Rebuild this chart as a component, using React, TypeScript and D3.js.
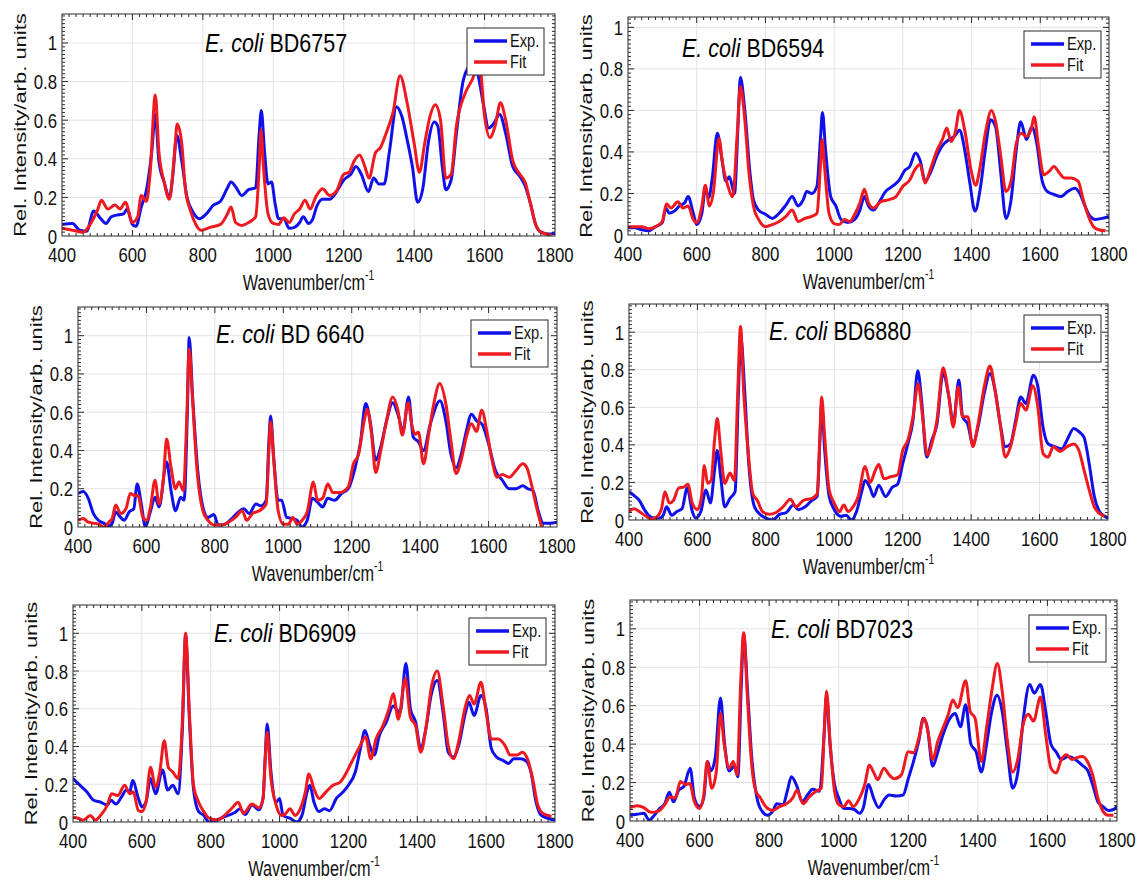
import React, { useEffect, useRef } from 'react';
import * as d3 from 'd3';

type Pt = [number, number];

const xTicks = [400, 600, 800, 1000, 1200, 1400, 1600, 1800];
const yTicks = [0, 0.2, 0.4, 0.6, 0.8, 1];
const strains = ['BD6757', 'BD6594', 'BD 6640', 'BD6880', 'BD6909', 'BD7023'];

// spectra: [wavenumber, rel. intensity]
const bd6757Exp: Pt[] = [[400,.06],[430,.065],[450,.03],[470,.025],[490,.13],[510,.09],[525,.065],[540,.10],[560,.11],[575,.115],[585,.14],[600,.06],[610,.05],[625,.15],[640,.24],[655,.44],[665,.63],[675,.39],[690,.28],[705,.20],[715,.32],[726,.52],[740,.39],[755,.20],[770,.13],[790,.09],[810,.115],[830,.16],[850,.18],[870,.25],[880,.28],[895,.25],[910,.21],[930,.24],[950,.25],[960,.53],[966,.65],[975,.44],[985,.27],[995,.28],[1005,.17],[1015,.09],[1030,.09],[1045,.04],[1060,.045],[1075,.07],[1085,.10],[1100,.065],[1110,.08],[1125,.16],[1140,.19],[1160,.19],[1180,.23],[1200,.29],[1220,.32],[1235,.36],[1250,.32],[1270,.23],[1285,.30],[1300,.27],[1315,.27],[1330,.44],[1350,.67],[1365,.62],[1380,.50],[1395,.36],[1410,.175],[1425,.25],[1440,.48],[1457,.59],[1467,.57],[1480,.36],[1490,.24],[1505,.29],[1520,.53],[1540,.81],[1560,.88],[1580,.84],[1595,.70],[1612,.56],[1625,.58],[1643,.63],[1660,.53],[1680,.36],[1700,.31],[1715,.26],[1730,.17],[1745,.06],[1760,.02],[1780,.01],[1800,.015]];
const bd6757Fit: Pt[] = [[400,.04],[430,.03],[460,.02],[480,.06],[500,.13],[512,.185],[530,.14],[550,.16],[565,.14],[580,.175],[600,.07],[615,.10],[625,.21],[640,.18],[650,.32],[665,.73],[675,.44],[690,.28],[705,.19],[720,.44],[727,.58],[740,.48],[750,.25],[765,.13],[780,.06],[795,.03],[820,.045],[850,.06],[870,.115],[880,.15],[893,.07],[910,.055],[930,.07],[950,.10],[960,.36],[965,.55],[972,.36],[985,.115],[1000,.065],[1015,.06],[1030,.095],[1045,.07],[1060,.115],[1075,.14],[1090,.185],[1105,.14],[1120,.20],[1140,.245],[1160,.21],[1180,.235],[1200,.32],[1215,.33],[1230,.39],[1245,.42],[1260,.36],[1272,.30],[1290,.43],[1305,.46],[1320,.53],[1340,.64],[1360,.83],[1380,.69],[1400,.48],[1415,.33],[1430,.48],[1445,.62],[1460,.68],[1475,.60],[1490,.30],[1505,.32],[1520,.57],[1545,.74],[1565,.81],[1585,.90],[1600,.62],[1615,.51],[1630,.57],[1645,.69],[1660,.60],[1680,.39],[1700,.32],[1715,.28],[1730,.17],[1745,.06],[1760,.02],[1790,.005]];

const bd6594Exp: Pt[] = [[400,.035],[420,.035],[440,.025],[460,.02],[480,.04],[500,.06],[510,.13],[520,.105],[535,.115],[550,.14],[565,.155],[575,.185],[590,.105],[600,.05],[615,.105],[625,.22],[635,.18],[645,.27],[660,.49],[672,.38],[685,.26],[695,.28],[710,.20],[720,.52],[727,.76],[740,.60],[755,.30],[765,.17],[780,.12],[800,.10],[820,.08],[840,.105],[860,.145],[878,.185],[895,.14],[910,.17],[920,.21],[935,.20],[950,.235],[960,.46],[966,.59],[975,.41],[990,.185],[1005,.14],[1020,.075],[1040,.06],[1060,.075],[1075,.12],[1088,.185],[1100,.14],[1115,.12],[1130,.155],[1150,.21],[1170,.235],[1190,.265],[1205,.31],[1220,.33],[1237,.395],[1250,.36],[1265,.26],[1280,.30],[1300,.385],[1320,.44],[1335,.46],[1350,.475],[1365,.505],[1380,.41],[1395,.25],[1410,.115],[1425,.22],[1440,.41],[1455,.555],[1470,.52],[1485,.30],[1500,.08],[1515,.17],[1530,.41],[1543,.545],[1560,.46],[1575,.52],[1590,.44],[1605,.265],[1620,.21],[1640,.195],[1660,.185],[1680,.21],[1700,.225],[1715,.20],[1730,.14],[1745,.09],[1760,.075],[1780,.08],[1800,.09]];
const bd6594Fit: Pt[] = [[400,.04],[440,.04],[460,.03],[480,.04],[500,.065],[512,.15],[525,.13],[545,.16],[560,.13],[575,.14],[590,.075],[600,.06],[615,.14],[625,.24],[637,.14],[648,.20],[665,.465],[675,.345],[690,.24],[705,.185],[718,.49],[727,.715],[740,.555],[752,.30],[765,.14],[780,.075],[800,.04],[820,.05],[840,.065],[860,.09],[878,.12],[895,.065],[915,.08],[935,.09],[950,.105],[960,.33],[965,.46],[972,.33],[985,.105],[1000,.055],[1015,.05],[1030,.075],[1045,.065],[1060,.10],[1075,.155],[1088,.22],[1100,.155],[1115,.13],[1135,.16],[1160,.17],[1180,.185],[1200,.235],[1220,.265],[1235,.315],[1250,.34],[1265,.25],[1280,.315],[1300,.41],[1315,.46],[1328,.515],[1340,.45],[1352,.49],[1365,.60],[1380,.505],[1400,.30],[1412,.24],[1425,.33],[1440,.49],[1458,.60],[1470,.545],[1485,.38],[1500,.21],[1515,.26],[1530,.44],[1545,.49],[1560,.475],[1575,.52],[1582,.57],[1595,.425],[1610,.29],[1625,.305],[1640,.33],[1655,.30],[1670,.275],[1690,.275],[1710,.26],[1725,.17],[1740,.09],[1755,.04],[1770,.025],[1790,.02]];

const bd6640Exp: Pt[] = [[400,.175],[415,.185],[430,.15],[445,.07],[460,.035],[475,.02],[490,.005],[500,.02],[510,.08],[520,.06],[535,.035],[550,.08],[563,.095],[573,.225],[585,.12],[597,.0],[610,.07],[625,.155],[637,.105],[659,.34],[672,.19],[685,.085],[700,.155],[710,.14],[720,.63],[725,.99],[735,.68],[750,.295],[765,.105],[780,.05],[797,.065],[810,.01],[830,.015],[850,.045],[870,.08],[885,.095],[900,.07],[920,.12],[935,.11],[950,.14],[958,.45],[963,.58],[972,.365],[985,.14],[995,.14],[1010,.05],[1025,.045],[1040,.035],[1055,.0],[1070,.035],[1085,.15],[1100,.13],[1115,.105],[1130,.15],[1150,.14],[1170,.175],[1190,.20],[1210,.31],[1225,.435],[1241,.645],[1255,.54],[1270,.35],[1285,.42],[1300,.54],[1320,.65],[1335,.59],[1350,.50],[1366,.68],[1380,.47],[1395,.445],[1410,.40],[1430,.54],[1458,.66],[1475,.555],[1490,.38],[1505,.31],[1520,.38],[1535,.50],[1550,.59],[1565,.555],[1580,.54],[1600,.435],[1620,.295],[1640,.245],[1660,.20],[1680,.20],[1700,.215],[1715,.20],[1730,.19],[1745,.085],[1760,.02],[1780,.02],[1800,.025]];
const bd6640Fit: Pt[] = [[400,.035],[415,.045],[430,.025],[460,.015],[475,.0],[490,.025],[500,.045],[510,.115],[525,.07],[540,.095],[553,.175],[565,.165],[575,.165],[590,.05],[600,.035],[612,.105],[625,.245],[637,.12],[650,.26],[659,.46],[672,.31],[685,.20],[695,.235],[708,.19],[718,.575],[725,.93],[735,.66],[748,.295],[765,.085],[780,.035],[800,.01],[820,.01],[840,.025],[860,.05],[880,.085],[893,.035],[910,.07],[930,.085],[950,.12],[958,.40],[963,.55],[972,.35],[985,.085],[1000,.015],[1015,.015],[1028,.05],[1040,.015],[1055,.035],[1070,.08],[1088,.235],[1100,.14],[1115,.15],[1130,.225],[1145,.18],[1165,.18],[1190,.21],[1205,.33],[1220,.38],[1235,.54],[1245,.615],[1258,.485],[1270,.285],[1285,.40],[1300,.54],[1320,.68],[1335,.61],[1348,.48],[1365,.65],[1375,.54],[1385,.485],[1395,.495],[1410,.33],[1425,.485],[1440,.645],[1457,.75],[1475,.645],[1490,.45],[1505,.28],[1520,.35],[1535,.47],[1550,.54],[1565,.50],[1580,.61],[1595,.50],[1610,.35],[1625,.26],[1640,.275],[1660,.26],[1680,.295],[1700,.33],[1712,.31],[1725,.225],[1740,.105],[1755,.0]];

const bd6880Exp: Pt[] = [[400,.15],[415,.13],[430,.105],[445,.055],[460,.02],[475,.01],[490,.01],[500,.025],[510,.07],[525,.025],[540,.045],[555,.06],[570,.17],[585,.045],[595,.01],[610,.045],[625,.16],[638,.09],[650,.265],[658,.37],[668,.23],[680,.07],[695,.115],[710,.15],[720,.69],[727,.97],[738,.69],[750,.30],[765,.08],[780,.035],[800,.01],[820,.0],[840,.03],[860,.04],[880,.08],[895,.055],[915,.07],[935,.105],[950,.125],[958,.42],[963,.62],[972,.37],[985,.125],[1000,.055],[1020,.02],[1035,.025],[1050,.0],[1065,.045],[1080,.15],[1090,.21],[1105,.17],[1115,.125],[1130,.185],[1150,.125],[1170,.175],[1185,.19],[1200,.30],[1215,.405],[1230,.53],[1244,.795],[1255,.64],[1270,.335],[1285,.425],[1300,.51],[1318,.78],[1335,.655],[1348,.51],[1364,.745],[1375,.55],[1390,.51],[1405,.405],[1420,.495],[1440,.69],[1455,.78],[1470,.69],[1485,.51],[1500,.39],[1515,.405],[1530,.53],[1545,.655],[1560,.62],[1582,.77],[1595,.71],[1610,.495],[1625,.405],[1645,.39],[1665,.38],[1680,.425],[1700,.487],[1715,.47],[1730,.44],[1745,.30],[1760,.125],[1775,.045],[1790,.02],[1800,.01]];
const bd6880Fit: Pt[] = [[400,.045],[415,.06],[430,.045],[450,.02],[465,.005],[480,.015],[495,.06],[505,.15],[518,.09],[530,.105],[545,.17],[560,.175],[572,.19],[585,.09],[600,.055],[612,.125],[620,.29],[630,.195],[640,.21],[650,.425],[658,.54],[668,.37],[680,.195],[695,.25],[708,.21],[718,.69],[726,1.03],[735,.69],[748,.37],[762,.14],[775,.105],[790,.045],[810,.03],[830,.04],[850,.07],[872,.11],[888,.07],[910,.105],[935,.115],[950,.14],[958,.46],[963,.655],[972,.44],[985,.16],[1000,.09],[1015,.045],[1028,.08],[1040,.045],[1055,.07],[1070,.125],[1090,.285],[1105,.20],[1120,.265],[1130,.295],[1145,.22],[1165,.23],[1185,.24],[1200,.37],[1215,.425],[1230,.55],[1245,.725],[1258,.55],[1272,.345],[1285,.405],[1300,.53],[1318,.81],[1335,.655],[1348,.495],[1362,.71],[1375,.55],[1390,.55],[1405,.39],[1420,.51],[1440,.725],[1455,.82],[1470,.69],[1485,.51],[1500,.335],[1515,.39],[1530,.51],[1545,.62],[1560,.585],[1580,.715],[1595,.60],[1610,.355],[1625,.335],[1640,.39],[1660,.365],[1680,.39],[1700,.405],[1715,.37],[1730,.265],[1745,.16],[1760,.07],[1775,.035],[1790,.02]];

const bd6909Exp: Pt[] = [[400,.23],[420,.195],[440,.16],[460,.115],[480,.105],[500,.09],[510,.115],[525,.095],[540,.13],[555,.17],[565,.16],[573,.22],[590,.125],[600,.08],[612,.105],[625,.23],[640,.15],[660,.275],[675,.17],[690,.195],[705,.15],[718,.51],[727,.99],[738,.55],[750,.175],[765,.055],[780,.035],[795,.0],[810,.005],[830,.02],[850,.035],[870,.05],[885,.07],[900,.04],[920,.09],[940,.065],[952,.125],[958,.335],[964,.52],[975,.265],[990,.105],[1000,.125],[1010,.035],[1030,.02],[1050,.0],[1065,.035],[1080,.16],[1088,.195],[1100,.105],[1115,.055],[1130,.07],[1145,.06],[1165,.125],[1185,.16],[1200,.195],[1220,.265],[1235,.39],[1248,.485],[1262,.405],[1275,.355],[1290,.46],[1310,.53],[1330,.615],[1350,.58],[1367,.84],[1380,.60],[1395,.53],[1410,.39],[1425,.495],[1440,.67],[1458,.75],[1475,.58],[1490,.37],[1505,.345],[1520,.405],[1540,.58],[1550,.635],[1565,.565],[1585,.67],[1600,.60],[1615,.39],[1630,.345],[1650,.325],[1665,.31],[1680,.335],[1700,.335],[1715,.325],[1730,.265],[1745,.105],[1760,.035],[1780,.02],[1800,.01]];
const bd6909Fit: Pt[] = [[400,.025],[415,.02],[430,.01],[450,.035],[465,.01],[480,.035],[500,.09],[512,.15],[530,.14],[550,.195],[565,.15],[575,.16],[590,.06],[600,.055],[612,.105],[625,.29],[640,.185],[652,.265],[665,.43],[677,.29],[690,.265],[705,.23],[718,.545],[727,1.0],[738,.58],[750,.195],[765,.105],[780,.055],[795,.02],[820,.01],[840,.035],[860,.07],[880,.105],[895,.045],[920,.095],[940,.075],[952,.125],[958,.32],[964,.475],[975,.23],[990,.09],[1005,.035],[1018,.045],[1030,.07],[1045,.035],[1060,.07],[1075,.16],[1085,.255],[1100,.175],[1115,.125],[1135,.16],[1155,.195],[1175,.21],[1195,.265],[1210,.32],[1230,.39],[1250,.45],[1265,.335],[1280,.44],[1300,.51],[1318,.60],[1330,.68],[1345,.545],[1365,.76],[1380,.555],[1395,.51],[1410,.37],[1425,.495],[1440,.705],[1458,.80],[1475,.615],[1490,.405],[1505,.335],[1520,.425],[1540,.615],[1552,.67],[1565,.625],[1585,.74],[1600,.58],[1615,.44],[1635,.44],[1655,.405],[1670,.355],[1690,.355],[1705,.37],[1720,.335],[1735,.23],[1750,.09],[1765,.045],[1790,.03]];

const bd7023Exp: Pt[] = [[400,.03],[420,.035],[440,.04],[455,.005],[470,.03],[485,.065],[500,.09],[513,.15],[525,.10],[540,.16],[555,.18],[573,.275],[585,.12],[600,.075],[612,.12],[623,.31],[632,.26],[645,.33],[660,.64],[672,.40],[685,.26],[700,.285],[710,.23],[720,.71],[727,.97],[738,.675],[750,.33],[765,.12],[780,.05],[795,.03],[810,.05],[822,.09],[840,.085],[852,.155],[864,.23],[880,.18],[895,.10],[910,.135],[925,.165],[945,.155],[958,.45],[965,.655],[975,.40],[988,.19],[1000,.12],[1015,.065],[1030,.065],[1045,.06],[1060,.04],[1070,.065],[1086,.19],[1100,.12],[1115,.07],[1130,.11],[1145,.135],[1165,.13],[1185,.135],[1200,.22],[1215,.31],[1230,.415],[1243,.535],[1255,.485],[1270,.285],[1285,.36],[1300,.45],[1320,.535],[1335,.56],[1350,.49],[1365,.605],[1380,.40],[1395,.36],[1410,.255],[1425,.40],[1440,.57],[1455,.655],[1470,.57],[1485,.36],[1500,.17],[1515,.255],[1530,.52],[1549,.71],[1562,.665],[1580,.71],[1595,.57],[1610,.40],[1625,.36],[1640,.32],[1660,.335],[1680,.32],[1700,.29],[1715,.265],[1730,.19],[1745,.10],[1760,.075],[1775,.055],[1790,.06],[1800,.075]];
const bd7023Fit: Pt[] = [[400,.07],[420,.08],[440,.07],[460,.045],[480,.05],[500,.085],[515,.125],[530,.12],[545,.205],[560,.19],[572,.195],[585,.10],[600,.065],[612,.135],[622,.31],[635,.17],[648,.255],[660,.56],[670,.41],[685,.275],[697,.31],[708,.24],[718,.71],[727,.98],[737,.66],[750,.29],[762,.155],[775,.12],[790,.075],[810,.055],[830,.075],[850,.09],[868,.12],[880,.16],[898,.09],[915,.125],[935,.155],[950,.17],[958,.45],[965,.675],[975,.415],[988,.155],[1000,.085],[1015,.075],[1028,.105],[1042,.075],[1060,.12],[1075,.19],[1088,.29],[1100,.255],[1112,.215],[1130,.275],[1145,.24],[1160,.22],[1180,.24],[1200,.36],[1215,.355],[1230,.43],[1245,.535],[1258,.45],[1270,.32],[1285,.415],[1300,.485],[1315,.555],[1328,.63],[1342,.59],[1365,.73],[1378,.57],[1392,.535],[1410,.31],[1425,.485],[1440,.675],[1456,.82],[1470,.675],[1485,.415],[1500,.255],[1515,.325],[1530,.50],[1545,.555],[1560,.52],[1580,.645],[1595,.45],[1610,.275],[1625,.25],[1640,.32],[1655,.345],[1670,.32],[1685,.33],[1700,.335],[1715,.31],[1730,.24],[1745,.12],[1760,.05],[1775,.03],[1790,.03]];

const expSeries = [bd6757Exp, bd6594Exp, bd6640Exp, bd6880Exp, bd6909Exp, bd7023Exp];
const fitSeries = [bd6757Fit, bd6594Fit, bd6640Fit, bd6880Fit, bd6909Fit, bd7023Fit];

// plot boxes on the page (px)
const frames = [
  { l: 62, r: 555, t: 14, b: 236, yMax: 1.15 },
  { l: 628, r: 1109, t: 17, b: 235, yMax: 1.05 },
  { l: 78, r: 557, t: 307, b: 527, yMax: 1.15 },
  { l: 629, r: 1108, t: 304, b: 520, yMax: 1.15 },
  { l: 73, r: 555, t: 605, b: 822, yMax: 1.15 },
  { l: 630, r: 1117, t: 600, b: 821, yMax: 1.15 },
];
const titleX = [205, 682, 216, 769, 214, 771];
const titleY = [52, 57, 343, 340, 642, 638];
const legendX = [467, 1024, 471, 1024, 469, 1029];
const legendY = [28, 31, 320, 315, 618, 615];

const BLUE = '#1010ea';
const RED = '#ee1a1f';
const AXIS = '#2b2b2b';
const FONT = '"Liberation Sans", Arial, Helvetica, sans-serif';

function squeezed(g: any, x: number, y: number, sx: number, size: number, anchor: string, txt: string) {
  return g.append('text')
    .attr('transform', `translate(${x},${y}) scale(${sx},1)`)
    .attr('text-anchor', anchor)
    .attr('font-size', size)
    .attr('fill', '#111')
    .text(txt);
}

function drawPanel(svg: any, i: number) {
  const f = frames[i];
  const x = d3.scaleLinear().domain([400, 1800]).range([f.l, f.r]);
  const y = d3.scaleLinear().domain([0, f.yMax]).range([f.b, f.t]);
  const g = svg.append('g').attr('font-family', FONT);

  g.append('rect').attr('x', f.l).attr('y', f.t)
    .attr('width', f.r - f.l).attr('height', f.b - f.t).attr('fill', '#fff');

  // grid
  g.selectAll('.gx').data(xTicks.slice(1, -1)).enter().append('line')
    .attr('x1', (d: number) => x(d)).attr('x2', (d: number) => x(d))
    .attr('y1', f.t).attr('y2', f.b)
    .attr('stroke', '#e3e3e3').attr('stroke-width', 1);
  g.selectAll('.gy').data(yTicks.slice(1)).enter().append('line')
    .attr('x1', f.l).attr('x2', f.r)
    .attr('y1', (d: number) => y(d)).attr('y2', (d: number) => y(d))
    .attr('stroke', '#e3e3e3').attr('stroke-width', 1);

  // spectra
  const clipId = `clip${i}`;
  g.append('clipPath').attr('id', clipId).append('rect')
    .attr('x', f.l).attr('y', f.t).attr('width', f.r - f.l).attr('height', f.b - f.t);
  const line = d3.line<Pt>().x(d => x(d[0])).y(d => y(d[1])).curve(d3.curveMonotoneX);
  const curves = g.append('g').attr('clip-path', `url(#${clipId})`);
  curves.append('path').attr('d', line(expSeries[i]))
    .attr('fill', 'none').attr('stroke', BLUE).attr('stroke-width', 3).attr('stroke-linejoin', 'round');
  curves.append('path').attr('d', line(fitSeries[i]))
    .attr('fill', 'none').attr('stroke', RED).attr('stroke-width', 3).attr('stroke-linejoin', 'round');

  // ticks, inside on all four sides
  const ticks = g.append('g').attr('stroke', AXIS).attr('stroke-width', 1);
  const xMinor = d3.range(420, 1800, 20);
  const yMinor = d3.range(0.02, f.yMax, 0.02);
  xMinor.forEach(v => {
    const len = v % 200 === 0 ? 6 : 3;
    ticks.append('line').attr('x1', x(v)).attr('x2', x(v)).attr('y1', f.b).attr('y2', f.b - len);
    ticks.append('line').attr('x1', x(v)).attr('x2', x(v)).attr('y1', f.t).attr('y2', f.t + len);
  });
  yMinor.forEach(v => {
    const major = Math.abs(v * 5 - Math.round(v * 5)) < 1e-6;
    const len = major ? 6 : 3;
    ticks.append('line').attr('x1', f.l).attr('x2', f.l + len).attr('y1', y(v)).attr('y2', y(v));
    ticks.append('line').attr('x1', f.r).attr('x2', f.r - len).attr('y1', y(v)).attr('y2', y(v));
  });
  g.append('rect').attr('x', f.l).attr('y', f.t)
    .attr('width', f.r - f.l).attr('height', f.b - f.t)
    .attr('fill', 'none').attr('stroke', AXIS).attr('stroke-width', 1);

  // tick labels
  xTicks.forEach(v => squeezed(g, x(v), f.b + 26, 0.8, 21, 'middle', String(v)));
  yTicks.forEach(v => squeezed(g, f.l - 5, y(v) + 7.5, 0.8, 21, 'end', d3.format('~g')(v)));

  // axis titles
  const xl = g.append('text')
    .attr('transform', `translate(${(f.l + f.r) / 2},${f.b + 54}) scale(0.74,1)`)
    .attr('text-anchor', 'middle').attr('font-size', 22).attr('fill', '#111');
  xl.append('tspan').text('Wavenumber/cm');
  xl.append('tspan').attr('dy', -10).attr('font-size', 14).text('-1');
  g.append('text')
    .attr('transform', `translate(${f.l - 42},${(f.t + f.b) / 2}) scale(0.78,1) rotate(-90)`)
    .attr('text-anchor', 'middle').attr('dy', 8).attr('font-size', 22).attr('fill', '#111')
    .text('Rel. Intensity/arb. units');

  // panel title
  const tt = g.append('text')
    .attr('transform', `translate(${titleX[i]},${titleY[i]}) scale(0.86,1)`)
    .attr('font-size', 25).attr('fill', '#000');
  tt.append('tspan').attr('font-style', 'italic').text('E. coli');
  tt.append('tspan').text(' ' + strains[i]);

  // legend
  const lx = legendX[i], ly = legendY[i];
  const leg = g.append('g');
  leg.append('rect').attr('x', lx).attr('y', ly).attr('width', 77).attr('height', 47)
    .attr('fill', '#fff').attr('stroke', AXIS).attr('stroke-width', 1);
  [['Exp.', BLUE], ['Fit', RED]].forEach(([name, col], k) => {
    const yy = ly + 13 + k * 21;
    leg.append('line').attr('x1', lx + 7).attr('x2', lx + 40).attr('y1', yy).attr('y2', yy)
      .attr('stroke', col).attr('stroke-width', 3.5);
    squeezed(leg, lx + 43, yy + 6, 0.77, 19, 'start', name);
  });
}

export default function App() {
  const ref = useRef<SVGSVGElement>(null);

  useEffect(() => {
    const svg = d3.select(ref.current);
    svg.selectAll('*').remove();
    svg.append('rect').attr('width', 1138).attr('height', 882).attr('fill', '#fff');
    for (let i = 0; i < 6; i++) drawPanel(svg, i);
  }, []);

  return (
    <div>
      <style>{'body{margin:0;background:#fff}'}</style>
      <svg ref={ref} width={1138} height={882} style={{ display: 'block' }} />
    </div>
  );
}
